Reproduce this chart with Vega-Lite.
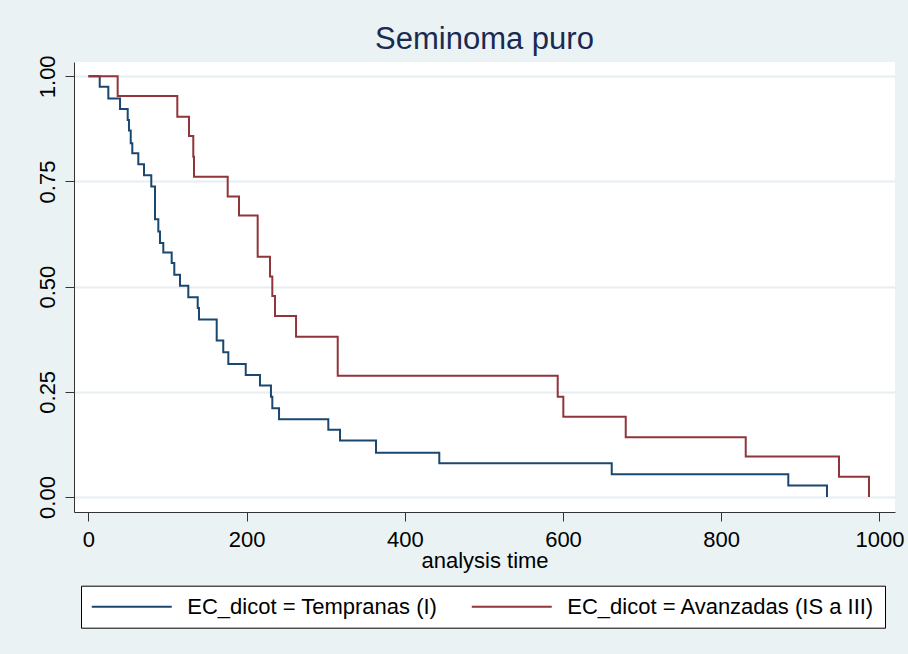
{
  "$schema": "https://vega.github.io/schema/vega-lite/v6.json",
  "width": 821,
  "height": 450,
  "autosize": {"type": "none"},
  "padding": {"left": 74, "top": 62, "right": 13, "bottom": 142},
  "background": "#eaf2f3",
  "title": {
    "text": "Seminoma puro",
    "fontSize": 31,
    "font": "Liberation Sans",
    "fontWeight": "normal",
    "color": "#1a2a52",
    "anchor": "middle",
    "frame": "group",
    "offset": -25,
    "baseline": "alphabetic"
  },
  "data": {
    "values": [
      {"g": "EC_dicot = Tempranas (I)", "t": 0, "s": 1.0},
      {"g": "EC_dicot = Tempranas (I)", "t": 14.3, "s": 0.975},
      {"g": "EC_dicot = Tempranas (I)", "t": 25.2, "s": 0.947},
      {"g": "EC_dicot = Tempranas (I)", "t": 40, "s": 0.922},
      {"g": "EC_dicot = Tempranas (I)", "t": 49.7, "s": 0.896},
      {"g": "EC_dicot = Tempranas (I)", "t": 51.3, "s": 0.871},
      {"g": "EC_dicot = Tempranas (I)", "t": 53.5, "s": 0.841},
      {"g": "EC_dicot = Tempranas (I)", "t": 55.5, "s": 0.817},
      {"g": "EC_dicot = Tempranas (I)", "t": 63.1, "s": 0.791},
      {"g": "EC_dicot = Tempranas (I)", "t": 70.3, "s": 0.765},
      {"g": "EC_dicot = Tempranas (I)", "t": 79.5, "s": 0.738},
      {"g": "EC_dicot = Tempranas (I)", "t": 84.2, "s": 0.660},
      {"g": "EC_dicot = Tempranas (I)", "t": 88.4, "s": 0.631},
      {"g": "EC_dicot = Tempranas (I)", "t": 90.5, "s": 0.604},
      {"g": "EC_dicot = Tempranas (I)", "t": 94.7, "s": 0.581},
      {"g": "EC_dicot = Tempranas (I)", "t": 105.3, "s": 0.556},
      {"g": "EC_dicot = Tempranas (I)", "t": 108.6, "s": 0.528},
      {"g": "EC_dicot = Tempranas (I)", "t": 115.8, "s": 0.502},
      {"g": "EC_dicot = Tempranas (I)", "t": 126.3, "s": 0.475},
      {"g": "EC_dicot = Tempranas (I)", "t": 138.2, "s": 0.449},
      {"g": "EC_dicot = Tempranas (I)", "t": 139.8, "s": 0.422},
      {"g": "EC_dicot = Tempranas (I)", "t": 162.2, "s": 0.372},
      {"g": "EC_dicot = Tempranas (I)", "t": 170.5, "s": 0.344},
      {"g": "EC_dicot = Tempranas (I)", "t": 176.9, "s": 0.316},
      {"g": "EC_dicot = Tempranas (I)", "t": 198.9, "s": 0.290},
      {"g": "EC_dicot = Tempranas (I)", "t": 216.9, "s": 0.265},
      {"g": "EC_dicot = Tempranas (I)", "t": 230.8, "s": 0.238},
      {"g": "EC_dicot = Tempranas (I)", "t": 232.5, "s": 0.211},
      {"g": "EC_dicot = Tempranas (I)", "t": 241, "s": 0.185},
      {"g": "EC_dicot = Tempranas (I)", "t": 303.3, "s": 0.160},
      {"g": "EC_dicot = Tempranas (I)", "t": 318.1, "s": 0.134},
      {"g": "EC_dicot = Tempranas (I)", "t": 363.6, "s": 0.105},
      {"g": "EC_dicot = Tempranas (I)", "t": 443.6, "s": 0.080},
      {"g": "EC_dicot = Tempranas (I)", "t": 661.6, "s": 0.054},
      {"g": "EC_dicot = Tempranas (I)", "t": 884.8, "s": 0.027},
      {"g": "EC_dicot = Tempranas (I)", "t": 933.7, "s": 0.0},
      {"g": "EC_dicot = Avanzadas (IS a III)", "t": 0, "s": 1.0},
      {"g": "EC_dicot = Avanzadas (IS a III)", "t": 37, "s": 0.953},
      {"g": "EC_dicot = Avanzadas (IS a III)", "t": 112.4, "s": 0.904},
      {"g": "EC_dicot = Avanzadas (IS a III)", "t": 127.2, "s": 0.858},
      {"g": "EC_dicot = Avanzadas (IS a III)", "t": 132.6, "s": 0.809},
      {"g": "EC_dicot = Avanzadas (IS a III)", "t": 133.5, "s": 0.761},
      {"g": "EC_dicot = Avanzadas (IS a III)", "t": 176.1, "s": 0.714},
      {"g": "EC_dicot = Avanzadas (IS a III)", "t": 190.4, "s": 0.669},
      {"g": "EC_dicot = Avanzadas (IS a III)", "t": 214, "s": 0.571},
      {"g": "EC_dicot = Avanzadas (IS a III)", "t": 229.6, "s": 0.524},
      {"g": "EC_dicot = Avanzadas (IS a III)", "t": 232.5, "s": 0.478},
      {"g": "EC_dicot = Avanzadas (IS a III)", "t": 235.9, "s": 0.430},
      {"g": "EC_dicot = Avanzadas (IS a III)", "t": 262.5, "s": 0.381},
      {"g": "EC_dicot = Avanzadas (IS a III)", "t": 315.2, "s": 0.288},
      {"g": "EC_dicot = Avanzadas (IS a III)", "t": 593.3, "s": 0.238},
      {"g": "EC_dicot = Avanzadas (IS a III)", "t": 600.4, "s": 0.191},
      {"g": "EC_dicot = Avanzadas (IS a III)", "t": 679.3, "s": 0.142},
      {"g": "EC_dicot = Avanzadas (IS a III)", "t": 831, "s": 0.096},
      {"g": "EC_dicot = Avanzadas (IS a III)", "t": 948.9, "s": 0.048},
      {"g": "EC_dicot = Avanzadas (IS a III)", "t": 986.8, "s": 0.0}
    ]
  },
  "mark": {"type": "line", "interpolate": "step-after", "strokeWidth": 2},
  "encoding": {
    "x": {
      "field": "t",
      "type": "quantitative",
      "scale": {"domain": [-18.2, 1019.7], "nice": false, "zero": false},
      "axis": {
        "values": [0, 200, 400, 600, 800, 1000],
        "format": "d",
        "title": "analysis time",
        "grid": false,
        "labelBaseline": "alphabetic",
        "labelPadding": 25,
        "titlePadding": 0,
        "titleFontSize": 22,
        "titleFontWeight": "normal",
        "titleFont": "Liberation Sans",
        "titleColor": "#000"
      }
    },
    "y": {
      "field": "s",
      "type": "quantitative",
      "scale": {"domain": [-0.0357, 1.034], "nice": false, "zero": false},
      "axis": {
        "values": [0, 0.25, 0.5, 0.75, 1],
        "format": ".2f",
        "title": null,
        "grid": true,
        "gridColor": "#e6eef1",
        "gridWidth": 2,
        "labelAngle": -90,
        "labelAlign": "center",
        "labelBaseline": "alphabetic",
        "labelPadding": 11
      }
    },
    "color": {
      "field": "g",
      "type": "nominal",
      "scale": {
        "domain": ["EC_dicot = Tempranas (I)", "EC_dicot = Avanzadas (IS a III)"],
        "range": ["#1a476f", "#90353b"]
      },
      "legend": {
        "orient": "none",
        "legendX": 7,
        "legendY": 523.7,
        "direction": "horizontal",
        "columns": 2,
        "title": null,
        "symbolType": "M0,0H8",
        "symbolSize": 400,
        "symbolStrokeWidth": 2,
        "symbolFillColor": "transparent",
        "symbolOffset": -10.25,
        "labelOffset": 84.5,
        "labelFontSize": 22,
        "labelFont": "Liberation Sans",
        "labelColor": "#000",
        "labelLimit": 0,
        "columnPadding": 29,
        "padding": 10,
        "strokeColor": "#000",
        "fillColor": "white"
      }
    }
  },
  "config": {
    "view": {"fill": "white", "stroke": null},
    "axis": {
      "domainColor": "#333333",
      "domainWidth": 1,
      "tickColor": "#333333",
      "tickSize": 9,
      "tickWidth": 1,
      "labelFont": "Liberation Sans",
      "labelFontSize": 22,
      "labelColor": "#000"
    }
  }
}
